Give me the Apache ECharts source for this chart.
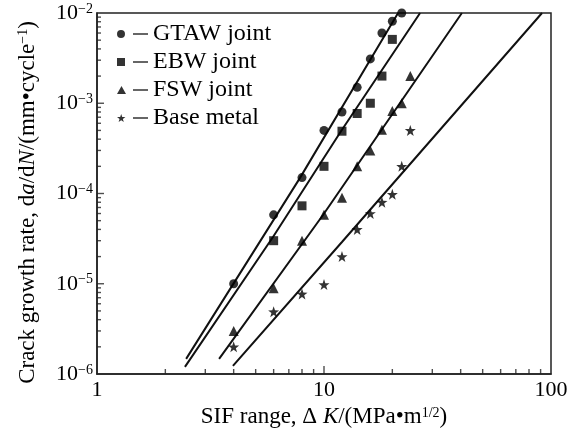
<!DOCTYPE html>
<html>
<head>
<meta charset="utf-8">
<script src="https://cdn.jsdelivr.net/npm/echarts@6/dist/echarts.min.js"></script>
<style>
html,body{margin:0;padding:0;background:#fff;}
#chart{width:574px;height:434px;}
</style>
</head>
<body>
<div id="chart"></div>
<script>
// ---- data ----
const seriesNames = ['GTAW joint', 'EBW joint', 'FSW joint', 'Base metal'];

const gtawX = [4, 6, 8, 10, 12, 14, 16, 18, 20, 22];
const gtawY = [1.0e-5, 5.8e-5, 1.5e-4, 5.0e-4, 8.0e-4, 1.5e-3, 3.1e-3, 6.0e-3, 8.1e-3, 1.0e-2];

const ebwX = [6, 8, 10, 12, 14, 16, 18, 20];
const ebwY = [3.0e-5, 7.3e-5, 2.0e-4, 4.9e-4, 7.7e-4, 1.0e-3, 2.0e-3, 5.1e-3];

const fswX = [4, 6, 8, 10, 12, 14, 16, 18, 20, 22, 24];
const fswY = [3.0e-6, 8.9e-6, 3.0e-5, 5.8e-5, 9.0e-5, 2.0e-4, 3.0e-4, 5.1e-4, 8.2e-4, 1.0e-3, 2.0e-3];

const baseX = [4, 6, 8, 10, 12, 14, 16, 18, 20, 22, 24];
const baseY = [2.0e-6, 4.9e-6, 7.7e-6, 9.8e-6, 2.0e-5, 4.0e-5, 6.0e-5, 8.0e-5, 9.8e-5, 2.0e-4, 5.0e-4];

// fitted lines (end / mid points)
const gtawLineX = [2.47, 7.84, 21.2];
const gtawLineY = [1.47e-6, 1.49e-4, 1.0e-2];
const ebwLineX = [2.44, 5.96, 11.9, 26.5];
const ebwLineY = [1.2e-6, 3.3e-5, 4.93e-4, 1.0e-2];
const fswLineX = [3.45, 9.9, 40.5];
const fswLineY = [1.47e-6, 5.78e-5, 1.0e-2];
const baseLineX = [3.97, 12.0, 91.3];
const baseLineY = [1.23e-6, 2.9e-5, 1.0e-2];

// axis ticks
const xMajorTicks = [1, 10, 100];
const xMinorTicks = [2, 3, 4, 5, 6, 7, 8, 9, 20, 30, 40, 50, 60, 70, 80, 90];
const yMajorTicks = [1e-6, 1e-5, 1e-4, 1e-3, 1e-2];
const yMinorMantissas = [2, 3, 4, 5, 6, 7, 8, 9];
const yMinorDecades = [1e-6, 1e-5, 1e-4, 1e-3];

// ---- build ----
const zip = (xs, ys) => xs.map((x, i) => [x, ys[i]]);
const FONT = 'Liberation Serif';
const INK = '#222';

const yMinorTicks = [];
yMinorDecades.forEach(d => yMinorMantissas.forEach(m => yMinorTicks.push(m * d)));

const starPath = 'path://M10,0 L12.35,6.76 L19.51,6.91 L13.8,11.24 L15.88,18.09 L10,14 L4.12,18.09 L6.2,11.24 L0.49,6.91 L7.65,6.76 Z';

const dash = ' M16,3.3 L31,3.3 L31,4.7 L16,4.7 Z';
const legendIcons = [
  'path://M4,0 A4,4 0 1,1 4,8 A4,4 0 1,1 4,0 Z' + dash,
  'path://M0,0 L8,0 L8,8 L0,8 Z' + dash,
  'path://M4.5,0 L9,8 L0,8 Z' + dash,
  'path://M4.2,0 L5.24,2.99 L8.4,3.05 L5.88,4.97 L6.8,8 L4.2,6.19 L1.6,8 L2.52,4.97 L0,3.05 L3.16,2.99 Z' + dash
];

const markers = [
  {name: seriesNames[0], data: zip(gtawX, gtawY), symbol: 'circle', size: 9},
  {name: seriesNames[1], data: zip(ebwX, ebwY), symbol: 'rect', size: 9},
  {name: seriesNames[2], data: zip(fswX, fswY), symbol: 'triangle', size: 10},
  {name: seriesNames[3], data: zip(baseX, baseY), symbol: starPath, size: 11}
];
const lines = [
  zip(gtawLineX, gtawLineY),
  zip(ebwLineX, ebwLineY),
  zip(fswLineX, fswLineY),
  zip(baseLineX, baseLineY)
];

const series = [];
lines.forEach((ln, i) => {
  series.push({
    name: 'fit' + i,
    type: 'line',
    data: ln,
    showSymbol: false,
    symbol: 'none',
    silent: true,
    z: 2,
    lineStyle: {color: '#111', width: 2}
  });
});
markers.forEach(m => {
  series.push({
    name: m.name,
    type: 'scatter',
    data: m.data,
    symbol: m.symbol,
    symbolSize: m.size,
    itemStyle: {color: '#000'},
    z: 3
  });
});

// tick marks, drawn as thin rect symbols placed through the axis scales
function tickSeries(name, data, size, offset) {
  return {
    name: name,
    type: 'scatter',
    silent: true,
    clip: false,
    z: 5,
    symbol: 'rect',
    symbolSize: size,
    symbolOffset: offset,
    itemStyle: {color: INK},
    data: data
  };
}
series.push(tickSeries('xminor', xMinorTicks.map(v => [v, yMajorTicks[0]]), [1.4, 5], [0, -2.5]));
series.push(tickSeries('xmajor', [[xMajorTicks[1], yMajorTicks[0]]], [1.4, 8], [0, -4]));
series.push(tickSeries('yminor', yMinorTicks.map(v => [xMajorTicks[0], v]), [4, 1.4], [2, 0]));
series.push(tickSeries('ymajor', yMajorTicks.slice(1, 4).map(v => [xMajorTicks[0], v]), [7, 1.4], [3.5, 0]));

const chart = echarts.init(document.getElementById('chart'), null, {renderer: 'canvas'});
chart.setOption({
  animation: false,
  backgroundColor: '#fff',
  textStyle: {fontFamily: FONT, color: '#000'},
  grid: {left: 97, right: 23, top: 13, bottom: 60, show: true, borderColor: INK, borderWidth: 1.5},
  legend: {
    orient: 'vertical',
    left: 117, top: 22,
    padding: 0,
    itemGap: 4,
    itemWidth: 31, itemHeight: 8,
    selectedMode: false,
    formatter: n => '{t|' + n + '}',
    textStyle: {
      fontFamily: FONT, fontSize: 24, color: '#000',
      rich: {t: {fontFamily: FONT, fontSize: 24, color: '#000'}}
    },
    data: seriesNames.map((n, i) => ({name: n, icon: legendIcons[i]}))
  },
  xAxis: {
    type: 'log', logBase: 10, min: xMajorTicks[0], max: xMajorTicks[2],
    splitLine: {show: false},
    axisLine: {lineStyle: {color: INK, width: 1.5}},
    axisTick: {show: false},
    minorTick: {show: false},
    axisLabel: {fontFamily: FONT, fontSize: 22, color: '#000', margin: 5,
      formatter: v => String(Math.round(v))},
    name: '{t|SIF range, Δ }{i|K}{t|/(MPa•m}{s|1/2}{t|)}',
    nameLocation: 'middle',
    nameGap: 27,
    nameTextStyle: {
      rich: {
        t: {fontFamily: FONT, fontSize: 23, color: '#000'},
        i: {fontFamily: FONT, fontSize: 23, fontStyle: 'italic', color: '#000'},
        s: {fontFamily: FONT, fontSize: 14, color: '#000', verticalAlign: 'top', lineHeight: 14}
      }
    }
  },
  yAxis: {
    type: 'log', logBase: 10, min: yMajorTicks[0], max: yMajorTicks[4],
    splitLine: {show: false},
    axisLine: {lineStyle: {color: INK, width: 1.5}},
    axisTick: {show: false},
    minorTick: {show: false},
    axisLabel: {
      margin: 4,
      formatter: v => '{b|10}{s|−' + Math.round(-Math.log10(v)) + '}',
      rich: {
        b: {fontFamily: FONT, fontSize: 22, color: '#000'},
        s: {fontFamily: FONT, fontSize: 14, color: '#000', verticalAlign: 'top', lineHeight: 14}
      }
    },
    name: '{t|Crack growth rate, d}{i|a}{t|/d}{i|N}{t|/(mm•cycle}{s|−1}{t|)}',
    nameLocation: 'middle',
    nameRotate: 90,
    nameGap: 58,
    nameTextStyle: {
      padding: [0, 18, 0, 0],
      rich: {
        t: {fontFamily: FONT, fontSize: 23, color: '#000'},
        i: {fontFamily: FONT, fontSize: 23, fontStyle: 'italic', color: '#000'},
        s: {fontFamily: FONT, fontSize: 14, color: '#000', verticalAlign: 'top', lineHeight: 14}
      }
    }
  },
  series: series
});
</script>
</body>
</html>
